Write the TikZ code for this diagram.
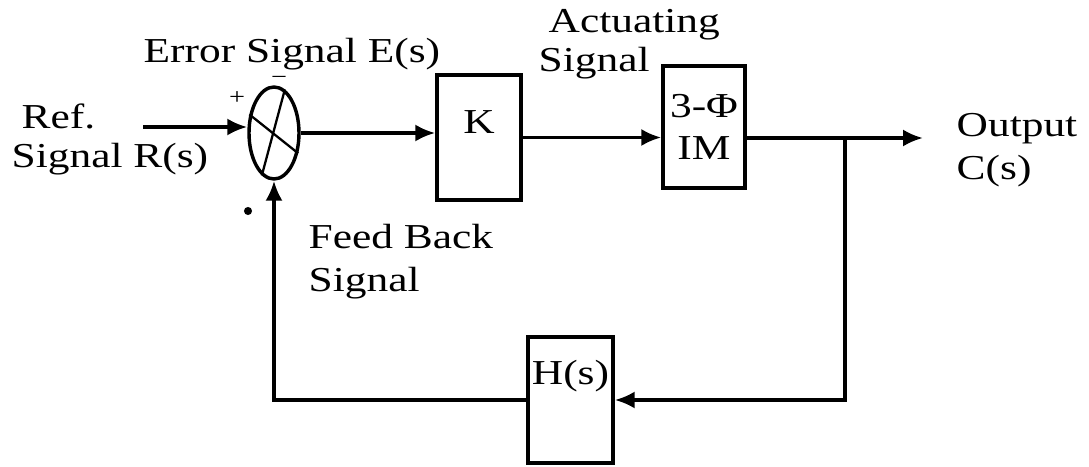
\documentclass[tikz,border=0pt]{standalone}
\usepackage{fontspec}
\setmainfont{Liberation Serif}[FakeStretch=1.24]
\usetikzlibrary{arrows.meta,shapes.geometric}

\begin{document}
\begin{tikzpicture}[
  x=0.35pt,y=-0.35pt,
  line width=1.2pt,
  font=\fontsize{12.25}{13.65}\selectfont,
  block/.style={draw,line width=1.2pt,minimum width=29.4pt,minimum height=43.75pt,inner sep=0pt,align=center},
  junction/.style={draw,ellipse,minimum width=17.5pt,minimum height=32.2pt,inner sep=0pt},
  lbl/.style={inner sep=0pt,anchor=base west,align=left},
  sgn/.style={inner sep=0pt,font=\footnotesize},
  arr/.style={-{Latex[length=7pt,width=6pt]}}
]
\useasboundingbox (0,0) rectangle (1089,467);
% blocks
\node[junction] (sum) at (274,133) {};
\node[block,text height=8.4pt,text depth=11.5pt] (K) at (479,137.5) {K};
\node[block,minimum width=28.7pt,minimum height=42.7pt] (IM) at (704,127) {3-Φ\\[1pt]IM};
\node[block,minimum width=29.75pt,minimum height=44.1pt,text height=7.7pt,text depth=18.9pt] (H) at (570.5,400) {H(s)};
% summing point
\draw[line width=0.8pt] (sum.143) -- (sum.-40);
\draw[line width=0.8pt] (sum.76) -- (sum.254);
\node[sgn] (plus) at (237,98) {+};
\node[sgn] (minus) at (279,80) {−};
\node[circle,fill,inner sep=1pt] (dot) at (248,211) {};
% free ends
\coordinate (refin) at (143,127);
\coordinate (outend) at (923,138);
\coordinate (branch) at (845,138);
% forward path
\draw[arr] (refin) -- (refin -| sum.west);
\draw[arr] (sum.east) -- (sum.east -| K.west);
\draw[arr] (K.east) -- (K.east -| IM.west);
\draw[arr] (IM.east |- outend) -- (outend);
% feedback path
\draw[arr] (branch) |- (H.east);
\draw[arr] (H.west) -| (sum.south);
% labels
\node[lbl] (reflbl) at (10,168) {\hspace*{3.5pt}Ref.\\Signal R(s)};
\node[lbl] (errlbl) at (142,63) {Error Signal E(s)};
\node[lbl] (actlbl) at (537,72) {\hspace*{3.5pt}Actuating\\Signal};
\node[lbl] (fblbl) at (307,292) {Feed Back\\[1.4pt]Signal};
\node[lbl] (outlbl) at (955,180) {Output\\[1.4pt]C(s)};
\end{tikzpicture}
\end{document}
